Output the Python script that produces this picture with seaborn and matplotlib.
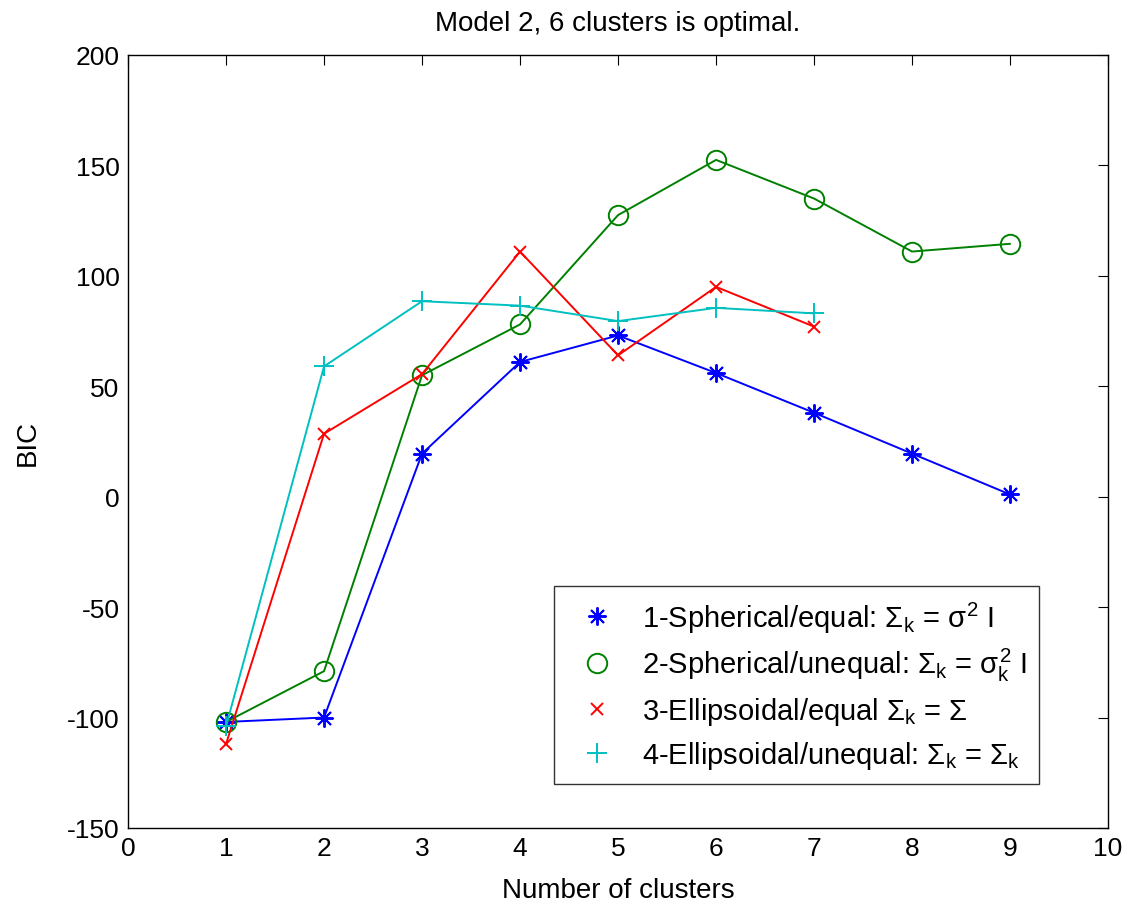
import pandas as pd
import numpy as np
import matplotlib
matplotlib.use('Agg')
import matplotlib.pyplot as plt
import seaborn as sns

# BIC values per model
clusters_9 = [1, 2, 3, 4, 5, 6, 7, 8, 9]
clusters_7 = [1, 2, 3, 4, 5, 6, 7]
bic_model1 = [-102, -100, 19.5, 61, 73, 56, 38, 19.5, 1]
bic_model2 = [-102, -79, 55, 78, 127.5, 152.5, 135, 111, 114.5]
bic_model3 = [-112, 28.5, 55.5, 111, 64, 95, 77]
bic_model4 = [-104, 59, 88.5, 86.5, 79.5, 85.5, 83]

labels = [
    r'1-Spherical/equal: $\Sigma_k$ = $\sigma^2$ I',
    r'2-Spherical/unequal: $\Sigma_k$ = $\sigma_k^2$ I',
    r'3-Ellipsoidal/equal $\Sigma_k$ = $\Sigma$',
    r'4-Ellipsoidal/unequal: $\Sigma_k$ = $\Sigma_k$',
]

sns.set_style('white')
plt.rcParams['font.family'] = ['Liberation Sans', 'DejaVu Sans']
plt.rcParams['mathtext.fontset'] = 'custom'
plt.rcParams['mathtext.rm'] = 'Liberation Sans'
plt.rcParams['mathtext.it'] = 'Liberation Sans'
plt.rcParams['axes.unicode_minus'] = False
for key in ['text.color', 'axes.labelcolor', 'xtick.color', 'ytick.color']:
    plt.rcParams[key] = 'black'

fig = plt.figure(figsize=(11.27, 9.03), dpi=100)
ax = fig.add_axes([0.1136, 0.082, 0.8696, 0.856])

series = [
    (clusters_9, bic_model1, 'blue', (8, 2, 0), 13, 'blue'),
    (clusters_9, bic_model2, 'green', 'o', 14, 'none'),
    (clusters_7, bic_model3, 'red', 'x', 9, 'red'),
    (clusters_7, bic_model4, '#00c0c0', '+', 15, '#00c0c0'),
]
for (xs, ys, col, mk, ms, fc), lab in zip(series, labels):
    sns.lineplot(x=xs, y=ys, color=col, marker=mk, markersize=ms,
                 markerfacecolor=fc, markeredgecolor=col, markeredgewidth=1.4,
                 linewidth=1.4, label=lab, ax=ax)

ax.set_xlim(0, 10)
ax.set_ylim(-150, 200)
ax.set_xticks(range(0, 11))
ax.set_yticks(range(-150, 201, 50))
ax.tick_params(direction='in', length=7, labelsize=19, top=True, right=True, pad=6)
for s in ax.spines.values():
    s.set_color('black')
    s.set_linewidth(1.0)

ax.set_xlabel('Number of clusters', fontsize=20, labelpad=12)
ax.set_ylabel('BIC', fontsize=20, labelpad=19)
ax.set_title('Model 2, 6 clusters is optimal.', fontsize=20, pad=18)

leg = ax.legend(loc='lower right', bbox_to_anchor=(0.93, 0.057), fontsize=21,
                frameon=True, fancybox=False, edgecolor='black',
                handlelength=2.0, handletextpad=0.55, borderpad=0.45,
                labelspacing=0.4, borderaxespad=0)
leg.get_frame().set_linewidth(1.0)
for h in leg.get_lines():
    h.set_linestyle('none')

fig.savefig('out.png', dpi=100)
